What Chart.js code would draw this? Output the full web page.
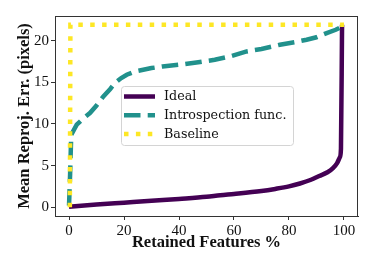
<!DOCTYPE html>
<html>
<head>
<meta charset="utf-8">
<script src="https://cdn.jsdelivr.net/npm/chart.js@4/dist/chart.umd.min.js"></script>
<style>
  html, body { margin: 0; padding: 0; background: #fff; }
  #wrap { width: 374px; height: 267px; position: relative; }
</style>
</head>
<body>
<div id="wrap"><canvas id="chart"></canvas></div>
<script>
// Data
const seriesNames = ['Ideal', 'Introspection func.', 'Baseline'];

const idealX = [0, 10, 20, 30, 40, 50, 55, 60, 70, 75, 80, 84, 88, 91, 94, 96, 97.5, 98.5, 98.9, 99.3];
const idealY = [0.05, 0.32, 0.55, 0.78, 1.0, 1.25, 1.45, 1.6, 1.95, 2.2, 2.5, 2.85, 3.3, 3.75, 4.2, 4.7, 5.3, 6.0, 7.0, 21.9];

const introX = [0, 0.4, 0.8, 2.8, 5, 7.6, 10, 12.5, 15, 16.7, 19, 21, 24, 27, 30, 34, 40, 47, 53, 58.5, 64.6, 70, 76.7, 82, 86.4, 90, 93.7, 97, 99.4];
const introY = [0.2, 4, 8.7, 9.9, 10.6, 11.3, 12.2, 13.3, 14.2, 14.9, 15.5, 15.9, 16.3, 16.5, 16.7, 16.9, 17.1, 17.4, 17.7, 18.1, 18.7, 19.0, 19.5, 19.8, 20.1, 20.4, 20.9, 21.3, 21.7];

const baseX = [0.3, 0.5, 100];
const baseY = [0, 21.9, 21.9];

const xTicks = [0, 20, 40, 60, 80, 100];
const yTicks = [0, 5, 10, 15, 20];

const colors = ['#440154', '#21918c', '#fde725'];
const lw = 4.5;
const dashes = [[], [16.5, 7.2], [4.5, 7.4]];

const pts = (xs, ys) => xs.map((x, i) => ({ x: x, y: ys[i] }));

const serif = "'Liberation Serif', 'DejaVu Serif', serif";
const legendFont = "12.7px 'DejaVu Serif', serif";

// frame + legend drawn over the plot
const framePlugin = {
    id: 'frame',
    afterDatasetsDraw(chart) {
        const { ctx, chartArea: a } = chart;
        ctx.save();
        ctx.strokeStyle = '#333';
        ctx.lineWidth = 1;
        ctx.strokeRect(a.left + 0.5, a.top + 0.5, a.right - a.left - 1, a.bottom - a.top);

        // legend box
        const bx = a.left + 66, by = a.top + 70, bw = 172, bh = 59;
        ctx.fillStyle = 'rgba(255,255,255,0.85)';
        ctx.strokeStyle = '#d4d4d4';
        ctx.lineWidth = 1;
        ctx.beginPath();
        ctx.roundRect(bx + 0.5, by + 0.5, bw, bh, 3);
        ctx.fill();
        ctx.stroke();

        ctx.font = legendFont;
        ctx.textBaseline = 'middle';
        seriesNames.forEach((name, i) => {
            const y = by + 10.5 + i * 18.7;
            ctx.beginPath();
            ctx.strokeStyle = colors[i];
            ctx.lineWidth = lw;
            ctx.lineCap = 'butt';
            ctx.setLineDash(dashes[i]);
            ctx.moveTo(bx + 3, y);
            ctx.lineTo(bx + 34, y);
            ctx.stroke();
            ctx.setLineDash([]);
            ctx.fillStyle = '#111';
            ctx.fillText(name, bx + 43, y + 0.5);
        });
        ctx.restore();
    }
};

new Chart(document.getElementById('chart'), {
    type: 'line',
    data: {
        datasets: [
            { label: seriesNames[2], data: pts(baseX, baseY), borderColor: colors[2], borderWidth: lw, borderDash: dashes[2], borderCapStyle: 'butt', pointRadius: 0, tension: 0 },
            { label: seriesNames[1], data: pts(introX, introY), borderColor: colors[1], borderWidth: lw, borderDash: dashes[1], borderCapStyle: 'butt', pointRadius: 0, tension: 0 },
            { label: seriesNames[0], data: pts(idealX, idealY), borderColor: colors[0], borderWidth: lw, pointRadius: 0, cubicInterpolationMode: 'monotone' }
        ]
    },
    options: {
        responsive: true,
        maintainAspectRatio: false,
        animation: false,
        layout: { padding: { top: 16, right: 16, left: 0, bottom: 0 } },
        plugins: { legend: { display: false }, tooltip: { enabled: false } },
        scales: {
            x: {
                type: 'linear',
                min: -5.1, max: 105.1,
                afterBuildTicks: s => { s.ticks = xTicks.map(v => ({ value: v })); },
                afterFit: s => { s.height = 51; },
                grid: { drawOnChartArea: false, tickLength: 4, tickColor: '#333' },
                border: { color: '#333' },
                ticks: { color: '#111', padding: 2, font: { family: serif, size: 15 } },
                title: { display: true, text: 'Retained Features %', color: '#111', padding: { top: 0, bottom: 14 }, font: { family: serif, size: 16.5, weight: 'bold' } }
            },
            y: {
                min: -1.05, max: 22.95,
                afterBuildTicks: s => { s.ticks = yTicks.map(v => ({ value: v })); },
                afterFit: s => { s.width = 55; },
                grid: { drawOnChartArea: false, tickLength: 4, tickColor: '#333' },
                border: { color: '#333' },
                ticks: { color: '#111', padding: 2, font: { family: serif, size: 15 } },
                title: { display: true, text: 'Mean Reproj. Err. (pixels)', color: '#111', padding: { top: 15, bottom: 0 }, font: { family: serif, size: 16.5, weight: 'bold' } }
            }
        }
    },
    plugins: [framePlugin]
});
</script>
</body>
</html>
